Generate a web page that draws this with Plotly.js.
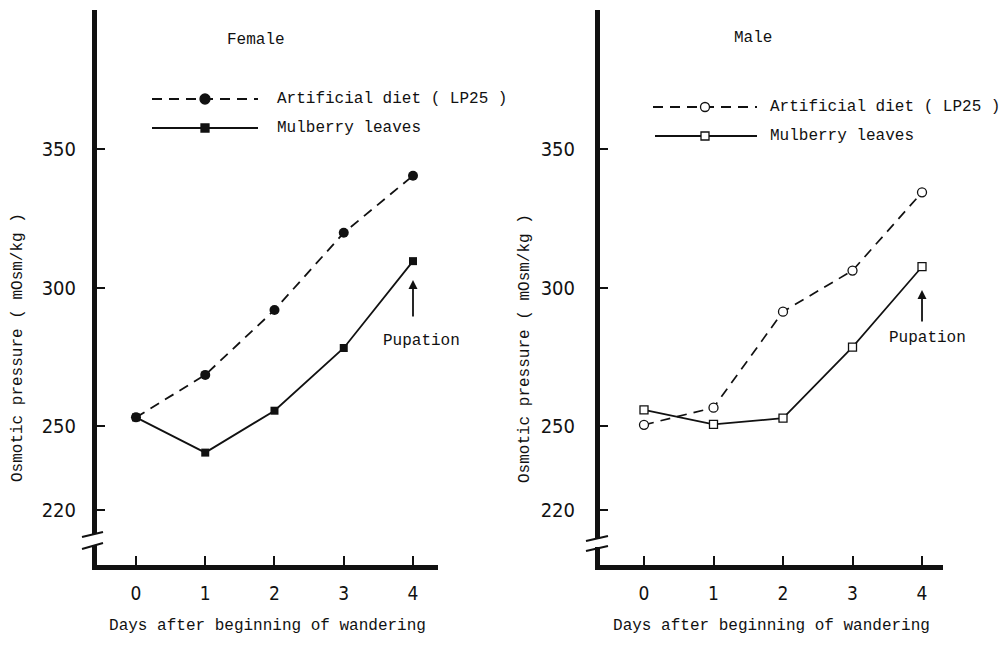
<!DOCTYPE html>
<html>
<head>
<meta charset="utf-8">
<script src="https://cdn.plot.ly/plotly-3.0.1.min.js"></script>
<style>html,body{margin:0;padding:0;background:#fff;}</style>
</head>
<body>
<div id="chart" style="width:1005px;height:645px;"></div>
<script>
// ---- data ----
const days = [0, 1, 2, 3, 4];
const femaleArtificial = [253.2, 268.5, 291.9, 319.7, 340.3];
const femaleMulberry   = [253.2, 240.5, 255.6, 278.2, 309.5];
const maleArtificial   = [250.5, 256.7, 291.3, 306.1, 334.3];
const maleMulberry     = [255.9, 250.7, 252.9, 278.5, 307.5];
const yTickVals = [220, 250, 300, 350, 400];
const yTickText = ['220', '250', '300', '350', ''];
const xTickVals = [0, 1, 2, 3, 4];
const xTickText = ['0', '1', '2', '3', '4'];
const seriesNames = ['Artificial diet ( LP25 )', 'Mulberry leaves'];
const panelTitles = ['Female', 'Male'];
const pupationDay = 4;
const pupationTip = [302.7, 299.1];

// ---- helpers ----
const W = 1005, H = 645;
const px = x => x / W;
const py = y => 1 - y / H;
const TXT = "'Liberation Mono', 'DejaVu Sans Mono', monospace";
const NUM = "'Liberation Sans Narrow', 'DejaVu Sans Condensed', 'Liberation Sans', sans-serif";
const BLK = '#111';
const DASH = '10px,7px';

const traces = [
  {x: days, y: femaleMulberry, xaxis: 'x', yaxis: 'y', mode: 'lines+markers', name: seriesNames[1],
   line: {color: BLK, width: 1.8}, marker: {symbol: 'square', size: 8, color: BLK}},
  {x: days, y: femaleArtificial, xaxis: 'x', yaxis: 'y', mode: 'lines+markers', name: seriesNames[0],
   line: {color: BLK, width: 1.8, dash: DASH}, marker: {symbol: 'circle', size: 10, color: BLK}},
  {x: days, y: maleArtificial, xaxis: 'x2', yaxis: 'y2', mode: 'lines+markers', name: seriesNames[0],
   line: {color: BLK, width: 1.7, dash: DASH},
   marker: {symbol: 'circle', size: 9, color: '#fff', line: {color: BLK, width: 1.3}}},
  {x: days, y: maleMulberry, xaxis: 'x2', yaxis: 'y2', mode: 'lines+markers', name: seriesNames[1],
   line: {color: BLK, width: 1.7},
   marker: {symbol: 'square', size: 8, color: '#fff', line: {color: BLK, width: 1.3}}}
];

function xAxis(dom, rng, anchor) {
  return {
    domain: dom, range: rng, anchor: anchor,
    showline: true, linewidth: 5, linecolor: BLK, mirror: false,
    ticks: 'inside', ticklen: 9, tickwidth: 2, tickcolor: BLK,
    tickvals: xTickVals, ticktext: xTickText, ticklabelstandoff: 7,
    tickfont: {family: NUM, size: 19, color: BLK},
    showgrid: false, zeroline: false, fixedrange: true,
    title: {text: 'Days after beginning of wandering', font: {family: TXT, size: 16, color: BLK}, standoff: 18}
  };
}
function yAxis(dom, anchor, standoff) {
  return {
    domain: dom, range: [200, 400], anchor: anchor,
    showline: true, linewidth: 5, linecolor: BLK, mirror: false,
    ticks: 'inside', ticklen: 8, tickwidth: 2, tickcolor: BLK,
    tickvals: yTickVals, ticktext: yTickText, ticklabelstandoff: standoff,
    tickfont: {family: NUM, size: 20, color: BLK},
    showgrid: false, zeroline: false, fixedrange: true
  };
}

const yDom = [py(565), py(10)];

const shapes = [];
const annotations = [];

// legend samples (decorations)
function legendSample(x0, x1, xm, y, dashed, symbol, filled) {
  shapes.push({type: 'line', xref: 'paper', yref: 'paper', x0: px(x0), x1: px(x1), y0: py(y), y1: py(y),
    line: {color: BLK, width: 1.8, dash: dashed ? DASH : 'solid'}});
  const r = symbol === 'circle' ? (filled ? 5 : 4.5) : 4;
  const common = {xref: 'paper', yref: 'paper', x0: px(xm - r), x1: px(xm + r), y0: py(y + r), y1: py(y - r),
    line: {color: BLK, width: 1.3}, fillcolor: filled ? BLK : '#fff', layer: 'above'};
  shapes.push(Object.assign({type: symbol === 'circle' ? 'circle' : 'rect'}, common));
}
legendSample(152, 258, 205, 99, true, 'circle', true);
legendSample(152, 258, 205, 128, false, 'square', true);
legendSample(653, 757, 705, 107, true, 'circle', false);
legendSample(655, 757, 705, 136, false, 'square', false);

function textAt(x, y, t, anchor, extra) {
  annotations.push(Object.assign({xref: 'paper', yref: 'paper', x: px(x), y: py(y), text: t,
    showarrow: false, xanchor: anchor, yanchor: 'middle', font: {family: TXT, size: 16, color: BLK}}, extra || {}));
}
textAt(275, 99, seriesNames[0], 'left');
textAt(275, 128, seriesNames[1], 'left');
textAt(768, 107, seriesNames[0], 'left');
textAt(768, 136, seriesNames[1], 'left');
textAt(256, 40, panelTitles[0], 'center');
textAt(753, 38, panelTitles[1], 'center');
textAt(421, 341, 'Pupation', 'center');
textAt(927, 338, 'Pupation', 'center');
textAt(18, 348, 'Osmotic pressure ( mOsm/kg )', 'center', {textangle: -90});
textAt(525, 349, 'Osmotic pressure ( mOsm/kg )', 'center', {textangle: -90});

// pupation arrows
annotations.push({xref: 'x', yref: 'y', x: pupationDay, y: pupationTip[0], ax: 0, ay: 38, text: '',
  showarrow: true, arrowhead: 2, arrowsize: 1, arrowwidth: 1.8, arrowcolor: BLK});
annotations.push({xref: 'x2', yref: 'y2', x: pupationDay, y: pupationTip[1], ax: 0, ay: 33, text: '',
  showarrow: true, arrowhead: 2, arrowsize: 1, arrowwidth: 1.8, arrowcolor: BLK});

// axis breaks
function axisBreak(xc, gapTop, gapBot, l1, l2) {
  shapes.push({type: 'rect', xref: 'paper', yref: 'paper', x0: px(xc - 6), x1: px(xc + 6), y0: py(gapBot), y1: py(gapTop),
    line: {width: 0}, fillcolor: '#fff', layer: 'above'});
  [l1, l2].forEach(l => shapes.push({type: 'line', xref: 'paper', yref: 'paper',
    x0: px(l[0]), y0: py(l[1]), x1: px(l[2]), y1: py(l[3]), line: {color: BLK, width: 2}, layer: 'above'}));
}
axisBreak(95, 534, 545, [82, 537, 103, 532], [82, 549, 103, 543]);
axisBreak(598, 539, 547, [586, 541, 608, 536], [586, 551, 608, 546]);

const layout = {
  width: 1005, height: 645,
  margin: {l: 0, r: 0, t: 0, b: 0, pad: 0},
  paper_bgcolor: '#fff', plot_bgcolor: 'rgba(0,0,0,0)',
  showlegend: false,
  xaxis: xAxis([px(97), px(438)], [-0.563, 4.361], 'y'),
  yaxis: yAxis(yDom, 'x', 12),
  xaxis2: xAxis([px(600), px(943)], [-0.633, 4.302], 'y2'),
  yaxis2: yAxis(yDom, 'x2', 16),
  shapes: shapes,
  annotations: annotations
};

Plotly.newPlot('chart', traces, layout, {displayModeBar: false, staticPlot: true});
</script>
</body>
</html>
